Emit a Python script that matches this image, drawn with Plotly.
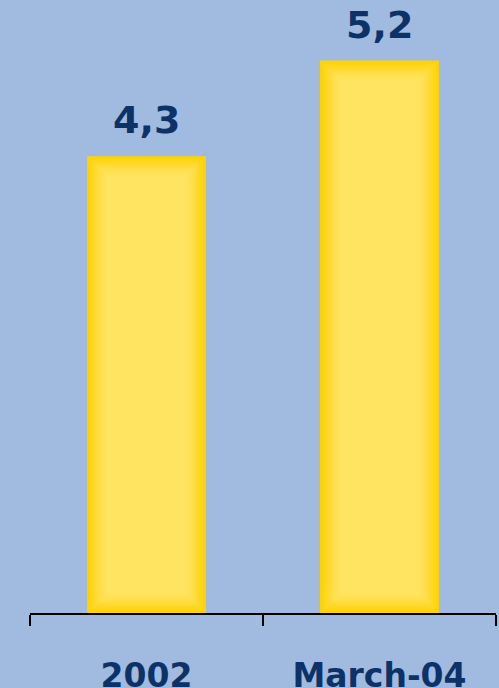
import plotly.graph_objects as go

categories = ["2002", "March-04"]
values = [4.3, 5.2]
value_labels = ["4,3", "5,2"]

BG = "#A0BBDF"
TXT = "#0D3268"
FONT = "DejaVu Sans"

fig = go.Figure()

bar_w = 0.51
px_per_cat = 233.0
px_per_unit = 106.25
layer_colors = ["#FFD300", "#FFD514", "#FFD827", "#FFDB38", "#FFDE47",
                "#FFE053", "#FFE25C", "#FFE462"]
inset = 2.8
for i, col in enumerate(layer_colors):
    dx = i * inset / px_per_cat * 2
    dy = i * inset / px_per_unit
    fig.add_trace(go.Bar(
        x=categories,
        y=[v - 2 * dy for v in values],
        base=[dy for _ in values],
        width=bar_w - dx,
        marker=dict(color=col, line=dict(width=0)),
        hoverinfo="skip",
        showlegend=False,
    ))

for idx, (v, lab) in enumerate(zip(values, value_labels)):
    fig.add_annotation(x=idx, y=v, xref="x", yref="y", text=lab, showarrow=False,
                       yanchor="bottom", yshift=12,
                       font=dict(family=FONT, size=38, color=TXT, weight="bold"))

fig.update_layout(
    width=499, height=688,
    margin=dict(l=30, r=3, t=0, b=75, autoexpand=False),
    paper_bgcolor=BG, plot_bgcolor=BG,
    barmode="overlay",
    showlegend=False,
)
fig.update_xaxes(
    type="category", range=[-0.5, 1.5], tickson="boundaries",
    ticks="outside", ticklen=11, tickwidth=2, tickcolor="black",
    showline=True, linecolor="black", linewidth=2,
    showgrid=False, zeroline=False, automargin=False,
    tickfont=dict(family=FONT, size=33, color=TXT, weight="bold"),
    ticklabelstandoff=32,
)
fig.update_yaxes(range=[0, 613 / px_per_unit], visible=False, showgrid=False,
                 zeroline=False, automargin=False)

fig.write_html("out.html")
